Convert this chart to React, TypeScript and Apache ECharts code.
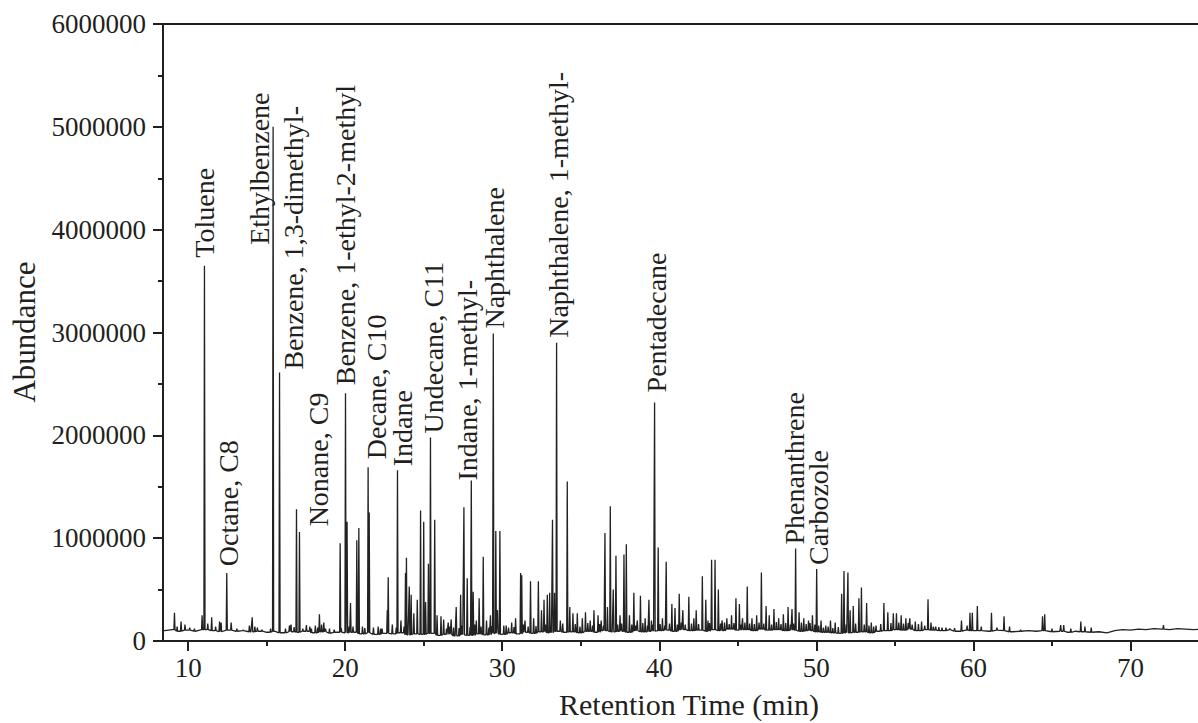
import React, { useEffect, useRef } from "react";
import * as echarts from "echarts";

// ---------- data (abundance values in thousands) ----------
const xTickValues = [10, 20, 30, 40, 50, 60, 70];
const xMinorTickValues = [15, 25, 35, 45, 55, 65];

// baseline level: [time (min), abundance (k)]
const baseline: [number, number][] = [
  [8.0, 105], [8.5, 100], [9.0, 110], [9.5, 95], [10.0, 105], [10.5, 95], [11.0, 110], [11.5, 100],
  [12.0, 90], [12.5, 105], [13.0, 95], [13.5, 100], [14.0, 90], [14.5, 95], [15.0, 85], [15.5, 95],
  [16.0, 80], [16.5, 90], [17.0, 85], [17.5, 95], [18.0, 80], [18.5, 90], [19.0, 75], [19.5, 85],
  [20.0, 80], [20.5, 85], [21.0, 70], [21.5, 80], [22.0, 65], [22.5, 75], [23.0, 70], [23.5, 80],
  [24.0, 60], [24.5, 70], [25.0, 65], [25.5, 75], [26.0, 55], [26.5, 65], [27.0, 50], [27.5, 60],
  [28.0, 55], [28.5, 70], [29.0, 60], [29.5, 75], [30.0, 65], [30.5, 80], [31.0, 70], [31.5, 85],
  [32.0, 75], [32.5, 90], [33.0, 80], [33.5, 95], [34.0, 85], [34.5, 90], [35.0, 80], [35.5, 95],
  [36.0, 85], [36.5, 100], [37.0, 90], [37.5, 95], [38.0, 85], [38.5, 100], [39.0, 90], [39.5, 95],
  [40.0, 100], [40.5, 105], [41.0, 95], [41.5, 110], [42.0, 100], [42.5, 105], [43.0, 95], [43.5, 110],
  [44.0, 100], [44.5, 115], [45.0, 105], [45.5, 110], [46.0, 100], [46.5, 115], [47.0, 105], [47.5, 110],
  [48.0, 100], [48.5, 105], [49.0, 95], [49.5, 100], [50.0, 90], [50.5, 85], [51.0, 80], [51.5, 75],
  [52.0, 80], [52.5, 85], [53.0, 90], [53.5, 80], [54.0, 95], [54.5, 100], [55.0, 110], [55.5, 105],
  [56.0, 115], [56.5, 100], [57.0, 110], [57.5, 105], [58.0, 100], [58.5, 110], [59.0, 95], [59.5, 105],
  [60.0, 100], [60.5, 100], [61.0, 95], [61.5, 105], [62.0, 100], [62.5, 90], [63.0, 95], [63.5, 100],
  [64.0, 95], [64.5, 100], [65.0, 90], [65.5, 95], [66.0, 85], [66.5, 95], [67.0, 90], [67.5, 85],
  [68.0, 90], [68.5, 80], [69.0, 100], [69.5, 110], [70.0, 105], [70.5, 115], [71.0, 110], [71.5, 120],
  [72.0, 115], [72.5, 110], [73.0, 120], [73.5, 115], [74.0, 110], [74.5, 115],
];

// small noise peaks ("grass") on the baseline: [time (min), abundance (k)]
const grass: [number, number][] = [
  [14.75, 130], [15.25, 120], [16.75, 135], [17.25, 125], [17.75, 140], [18.25, 130], [18.75, 120],
  [19.25, 135], [19.75, 125], [20.25, 140], [21.25, 125], [21.75, 135], [22.25, 120], [23.25, 130],
  [23.75, 140], [24.25, 125], [24.75, 150], [25.25, 135], [25.75, 145], [26.25, 130], [26.45, 120],
  [26.65, 140], [27.25, 125], [27.45, 150], [27.95, 135], [28.25, 160], [28.65, 140], [29.15, 130],
  [29.35, 145], [30.25, 150], [30.75, 135], [31.35, 160], [31.65, 140], [31.95, 170], [32.15, 145],
  [32.75, 160], [33.1, 150], [33.85, 170], [34.25, 150], [34.65, 165], [34.95, 140], [35.45, 175],
  [35.75, 150], [36.2, 165], [36.45, 150], [37.35, 160], [37.6, 170], [38.25, 160], [38.5, 150],
  [38.95, 175], [39.25, 150], [39.6, 160], [40.05, 165], [40.35, 150], [40.65, 170], [40.95, 175],
  [41.15, 160], [41.4, 180], [41.65, 160], [42.05, 170], [42.5, 165], [43.2, 175], [43.9, 170],
  [44.15, 180], [44.45, 165], [44.75, 175], [45.2, 160], [45.45, 180], [45.75, 170], [46.05, 165],
  [46.35, 180], [46.65, 170], [46.95, 175], [47.15, 160], [47.45, 185], [47.75, 165], [48.05, 175],
  [48.35, 160], [48.55, 170], [49.05, 180], [49.35, 165], [49.6, 175], [49.9, 160], [50.15, 150],
  [50.45, 130], [50.75, 140], [51.05, 125], [51.4, 135], [51.9, 160], [52.5, 170], [53.05, 160],
  [53.35, 150], [53.65, 140], [54.1, 165], [54.75, 175], [55.25, 180], [55.55, 170], [55.85, 175],
  [56.1, 160], [56.5, 165], [56.9, 150], [57.45, 140], [57.8, 135], [58.25, 130], [58.8, 125],
];

// unlabelled peaks: [retention time (min), apex abundance (k)]
const peaks: [number, number][] = [
  [9.13, 275], [9.3, 140], [9.55, 190], [9.8, 160], [10.1, 130], [10.4, 120], [10.89, 250],
  [11.25, 170], [11.5, 230], [11.75, 140], [12.0, 190], [12.1, 180], [12.74, 180], [13.1, 120],
  [13.5, 110], [13.9, 150], [14.08, 230], [14.25, 140], [14.41, 130], [14.7, 110],
  [16.2, 120], [16.45, 150], [16.55, 160], [17.09, 1060], [17.3, 120], [17.53, 155], [17.85, 120],
  [18.1, 150], [18.36, 260], [18.5, 160], [18.64, 180], [19.0, 120], [19.3, 110], [19.68, 950],
  [20.12, 1160], [20.34, 370], [20.5, 140], [20.74, 980], [20.87, 1100], [21.1, 140], [21.53, 1250],
  [21.8, 130], [22.1, 140], [22.35, 120], [22.68, 300], [22.74, 620], [23.0, 160], [23.55, 200],
  [23.84, 660], [23.9, 810], [24.08, 530], [24.2, 450], [24.37, 270], [24.59, 400], [24.8, 1270],
  [25.0, 1160], [25.12, 380], [25.3, 750], [25.7, 1180], [25.85, 250], [26.1, 240], [26.27, 210],
  [26.56, 180], [26.75, 210], [26.9, 130], [27.07, 330], [27.35, 450], [27.56, 1300], [27.77, 610],
  [28.15, 480], [28.35, 200], [28.53, 415], [28.79, 820], [29.0, 200], [29.25, 250], [29.59, 1070],
  [29.7, 300], [29.85, 1070], [30.1, 150], [30.4, 130], [30.6, 180], [30.85, 220], [31.17, 660],
  [31.24, 640], [31.45, 200], [31.8, 580], [32.0, 220], [32.3, 580], [32.5, 300], [32.66, 400],
  [32.87, 450], [33.02, 470], [33.2, 1180], [33.33, 470], [33.7, 200], [34.14, 1550], [34.3, 330],
  [34.5, 270], [34.78, 270], [35.1, 220], [35.3, 280], [35.6, 200], [35.84, 300], [36.1, 250],
  [36.3, 200], [36.54, 1050], [36.7, 330], [36.88, 1310], [37.07, 500], [37.24, 830], [37.5, 250],
  [37.75, 840], [37.9, 940], [38.1, 250], [38.38, 470], [38.6, 200], [38.8, 440], [39.1, 220],
  [39.34, 400], [39.5, 200], [39.93, 910], [40.2, 220], [40.44, 770], [40.8, 360], [41.0, 320],
  [41.27, 460], [41.5, 300], [41.88, 430], [42.2, 220], [42.35, 300], [42.74, 630], [42.96, 400],
  [43.1, 200], [43.33, 790], [43.55, 790], [43.76, 500], [44.0, 200], [44.3, 220], [44.6, 250],
  [44.88, 415], [45.1, 360], [45.3, 220], [45.6, 530], [45.9, 220], [46.2, 250], [46.5, 665],
  [46.8, 340], [47.0, 250], [47.3, 310], [47.6, 220], [47.9, 260], [48.2, 330], [48.45, 310],
  [48.9, 280], [49.2, 220], [49.5, 200], [49.75, 250], [50.3, 200], [50.6, 150], [50.9, 200],
  [51.2, 180], [51.61, 460], [51.76, 680], [52.01, 665], [52.15, 300], [52.35, 340], [52.71, 415],
  [52.87, 520], [53.2, 370], [53.5, 180], [53.8, 150], [54.3, 370], [54.55, 280], [54.9, 270],
  [55.1, 270], [55.4, 250], [55.7, 220], [55.95, 220], [56.3, 190], [56.7, 190], [57.11, 405],
  [57.3, 180], [57.6, 140], [58.0, 130], [58.5, 120], [59.24, 200], [59.6, 150], [59.78, 275],
  [59.93, 275], [60.25, 340], [60.5, 140], [61.15, 275], [61.5, 130], [61.95, 240], [62.3, 140],
  [63.0, 110], [64.4, 240], [64.54, 260], [65.0, 120], [65.56, 155], [65.75, 155], [66.2, 120],
  [66.84, 190], [67.1, 140], [67.5, 130], [72.1, 155],
];

// labelled compounds
const labelNames = [
  "Toluene", "Octane, C8", "Ethylbenzene", "Benzene, 1,3-dimethyl-", "Nonane, C9",
  "Benzene, 1-ethyl-2-methyl", "Decane, C10", "Indane", "Undecane, C11", "Indane, 1-methyl-",
  "Naphthalene", "Naphthalene, 1-methyl-", "Pentadecane", "Phenanthrene", "Carbozole",
];
const labelTimes = [11.04, 12.46, 15.41, 15.82, 16.9, 20.02, 21.46, 23.33, 25.43, 28.03, 29.43, 33.46, 39.7, 48.68, 50.02];
const labelHeights = [3650, 660, 5000, 2610, 1280, 2410, 1690, 1660, 1980, 1560, 2990, 2900, 2320, 900, 700];

// ---------- styling ----------
const INK = "#231f20";
const FONT = '"Liberation Serif", "Times New Roman", serif';
// [horizontal shift of label centre (px), gap between peak apex and label start (px)]
const labelPlacement: [number, number][] = [
  [0, 8], [2, 7], [-14, -118], [14, 3], [22, -17], [0, 8], [8, 8], [5, 4], [3, 4], [-4, 0],
  [1, 5], [2, 5], [2, 10], [-1, 4], [2, 4],
];

function buildTrace(): [number, number][] {
  const main: [number, number][] = [
    ...peaks,
    ...labelTimes.map((t, i) => [t, labelHeights[i]] as [number, number]),
  ];
  const all: [number, number][] = [
    ...main,
    ...grass.filter((g) => !main.some((p) => Math.abs(p[0] - g[0]) < 0.07)),
  ];
  const baseAt = (t: number) => {
    let best = baseline[0];
    for (const b of baseline) if (Math.abs(b[0] - t) < Math.abs(best[0] - t)) best = b;
    return best[1];
  };
  const pts: [number, number][] = [];
  for (const b of baseline) {
    if (!all.some((p) => Math.abs(p[0] - b[0]) < 0.06)) pts.push([b[0], b[1] * 1000]);
  }
  const hw = 0.035;
  for (const p of all) {
    const base = baseAt(p[0]) * 1000;
    pts.push([p[0] - hw, base], [p[0], p[1] * 1000], [p[0] + hw, base]);
  }
  pts.sort((a, b) => a[0] - b[0]);
  return pts;
}

export default function App() {
  const ref = useRef<HTMLDivElement>(null);
  useEffect(() => {
    if (!ref.current) return;
    const chart = echarts.init(ref.current, null, { renderer: "svg" });
    const xMin = 8.4;
    const xMax = 74.3;
    const line = { color: INK, width: 2 };
    chart.setOption({
      animation: false,
      grid: { left: 163, right: 0, top: 24, bottom: 82, containLabel: false },
      xAxis: [
        {
          type: "value", min: xMin, max: xMax, position: "bottom",
          axisLine: { show: true, onZero: false, lineStyle: line },
          axisTick: { show: true, inside: false, length: 10, lineStyle: line, customValues: xTickValues },
          axisLabel: { show: true, customValues: xTickValues, margin: 13, fontFamily: FONT, fontSize: 27, color: INK },
          splitLine: { show: false },
        },
        {
          type: "value", min: xMin, max: xMax, position: "bottom",
          axisLine: { show: false, onZero: false },
          axisTick: { show: true, inside: false, length: 5, lineStyle: line, customValues: xMinorTickValues },
          axisLabel: { show: false },
          splitLine: { show: false },
        },
        {
          type: "value", min: xMin, max: xMax, position: "top",
          axisLine: { show: true, onZero: false, lineStyle: line },
          axisTick: { show: false }, axisLabel: { show: false }, splitLine: { show: false },
        },
      ],
      yAxis: [
        {
          type: "value", min: 0, max: 6000000, interval: 1000000,
          axisLine: { show: true, lineStyle: line },
          axisTick: { show: true, inside: false, length: 10, lineStyle: line },
          minorTick: { show: true, splitNumber: 2, length: 5, lineStyle: line },
          axisLabel: { margin: 17, fontFamily: FONT, fontSize: 27, color: INK, formatter: (v: number) => String(v) },
          splitLine: { show: false }, minorSplitLine: { show: false },
        },
      ],
      series: [
        {
          type: "line", xAxisIndex: 0, yAxisIndex: 0, data: buildTrace(),
          symbol: "none", showSymbol: false, silent: true,
          lineStyle: { color: "#222", width: 1.3 },
        },
      ],
    });

    const graphics: any[] = labelNames.map((name, i) => {
      const [px, py] = chart.convertToPixel({ seriesIndex: 0 }, [labelTimes[i], labelHeights[i] * 1000]) as number[];
      const [dx, gap] = labelPlacement[i];
      return {
        type: "text", x: px + dx, y: py - gap, rotation: Math.PI / 2, silent: true, z: 10,
        style: {
          text: name, fill: INK, font: `28px ${FONT}`,
          align: "left", verticalAlign: "middle", textAlign: "left", textVerticalAlign: "middle",
        },
      };
    });
    graphics.push({
      type: "text", x: 24, y: 332, rotation: Math.PI / 2, silent: true,
      style: { text: "Abundance", fill: INK, font: `31px ${FONT}`, align: "center", verticalAlign: "middle", textAlign: "center", textVerticalAlign: "middle" },
    });
    graphics.push({
      type: "text", x: 689, y: 704, silent: true,
      style: { text: "Retention Time (min)", fill: INK, font: `30px ${FONT}`, align: "center", verticalAlign: "middle", textAlign: "center", textVerticalAlign: "middle" },
    });
    chart.setOption({ graphic: graphics });

    return () => chart.dispose();
  }, []);
  return <div ref={ref} style={{ position: "absolute", left: 0, top: 0, width: 1198, height: 723 }} />;
}
